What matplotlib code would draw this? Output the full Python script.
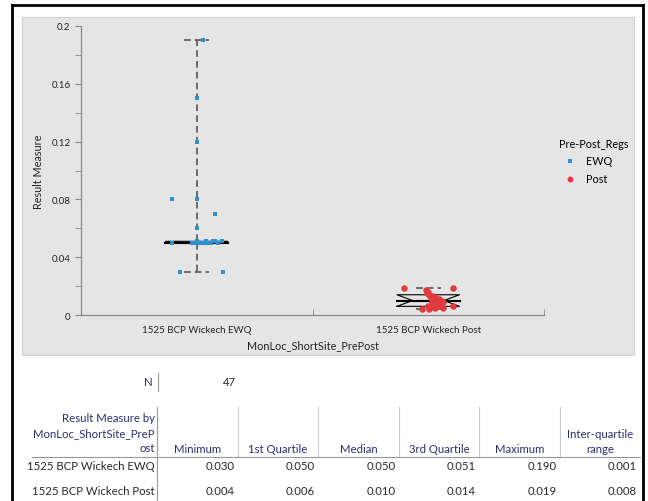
import matplotlib
matplotlib.use('Agg')
import matplotlib.pyplot as plt
from matplotlib.patches import Rectangle
from matplotlib.lines import Line2D
import numpy as np

plt.rcParams['font.family'] = ['Lato', 'DejaVu Sans']

categories = ['1525 BCP Wickech EWQ', '1525 BCP Wickech Post']
groups = ['EWQ', 'Post']
colors = ['#2f8fcf', '#e2393f']

# values, with horizontal jitter (category units)
ewq_vals = [0.19, 0.15, 0.12, 0.08, 0.08, 0.07, 0.06,
            0.05, 0.05, 0.05, 0.05, 0.05, 0.05, 0.05, 0.05,
            0.05, 0.05, 0.051, 0.051, 0.051, 0.051, 0.051,
            0.03, 0.03]
ewq_jit = [0.027, 0.0, 0.0, -0.107, 0.003, 0.079, 0.003,
           -0.107, -0.02, -0.01, 0.0, 0.01, 0.02, 0.03, 0.05,
           0.06, 0.09, 0.11, 0.0, 0.04, 0.07, 0.08,
           -0.074, 0.113]
post_vals = [0.019, 0.019, 0.017, 0.016, 0.015, 0.014, 0.013, 0.012,
             0.012, 0.011, 0.010, 0.010, 0.009, 0.008, 0.008, 0.007,
             0.006, 0.006, 0.006, 0.005, 0.005, 0.004, 0.004]
post_jit = [-0.103, 0.107, -0.01, 0.0, -0.005, 0.003, 0.02, 0.01,
            0.035, 0.045, 0.037, 0.06, 0.065, 0.05, 0.015, 0.04,
            0.0, 0.109, 0.025, 0.03, 0.065, -0.028, 0.005]

stat_names = ['Minimum', '1st Quartile', 'Median', '3rd Quartile', 'Maximum', 'Inter-quartile\nrange']
mins = [0.030, 0.004]
q1s = [0.050, 0.006]
meds = [0.050, 0.010]
q3s = [0.051, 0.014]
maxs = [0.190, 0.019]
iqrs = [0.001, 0.008]
n_total = 47

W, H = 648, 502
fig = plt.figure(figsize=(W / 100, H / 100), dpi=100)


def fx(px):
    return px / W


def fy(py):
    return 1 - py / H


# outer frame and grey panel
fig.add_artist(Line2D([fx(12), fx(12)], [fy(6), 0], color='black', lw=2))
fig.add_artist(Line2D([fx(643), fx(643)], [fy(6), 0], color='black', lw=2))
fig.add_artist(Line2D([fx(12), fx(643)], [fy(6), fy(6)], color='black', lw=2))
fig.add_artist(Rectangle((fx(22), fy(356)), fx(634) - fx(22), fy(18) - fy(356),
                         facecolor='#e5e5e5', edgecolor='#d2d2d2', lw=0.8, zorder=0))

ax = fig.add_axes([fx(81), fy(316), fx(544) - fx(81), fy(27) - fy(316)])
ax.set_facecolor('none')

stats = []
for i in range(2):
    stats.append(dict(med=meds[i], q1=q1s[i], q3=q3s[i], whislo=mins[i], whishi=maxs[i],
                      cilo=q1s[i], cihi=q3s[i], fliers=[]))
ax.bxp(stats, positions=[0, 1], widths=0.27, shownotches=True, showfliers=False,
       boxprops=dict(color='black', lw=0.8),
       whiskerprops=dict(color='#555555', lw=1.2, ls=(0, (4, 2.5))),
       capprops=dict(color='#555555', lw=1.2, ls=(0, (4, 2.5))),
       medianprops=dict(color='black', lw=1.5), capwidths=0.11)
# median across full box width
for i in range(2):
    ax.plot([i - 0.135, i + 0.135], [meds[i], meds[i]], color='black', lw=1.5, zorder=2)

ax.scatter(np.array(ewq_jit), ewq_vals, marker='s', s=12, color=colors[0], zorder=3,
           label=groups[0], linewidths=0)
ax.scatter(1 + np.array(post_jit), post_vals, marker='o', s=22, color=colors[1], zorder=3,
           label=groups[1], linewidths=0)

ax.set_xlim(-0.5, 1.5)
ax.set_ylim(0, 0.2)
ax.set_yticks([0, 0.04, 0.08, 0.12, 0.16, 0.2])
ax.set_yticklabels(['0', '0.04', '0.08', '0.12', '0.16', '0.2'])
ax.set_yticks(np.arange(0.02, 0.2, 0.04), minor=True)
ax.set_xticks([0, 1])
ax.set_xticklabels(categories)
ax.set_xticks([0.5, 1.5], minor=True)
ax.tick_params(axis='x', which='major', length=0, pad=7, labelsize=7, colors='#222222')
ax.tick_params(axis='x', which='minor', length=4, color='#888888', direction='in')
ax.tick_params(axis='y', which='both', length=4, color='#888888', labelsize=7,
               labelcolor='#222222')
for s in ['top', 'right']:
    ax.spines[s].set_visible(False)
for s in ['left', 'bottom']:
    ax.spines[s].set_color('#888888')
    ax.spines[s].set_linewidth(0.9)
ax.set_ylabel('Result Measure', fontsize=7.8, color='#222222', labelpad=5)
ax.set_xlabel('MonLoc_ShortSite_PrePost', fontsize=7.8, color='#222222', labelpad=4)

leg = ax.legend(loc='upper left', bbox_to_anchor=(fx(549), fy(129)),
                bbox_transform=fig.transFigure, frameon=False, fontsize=7.8,
                title='Pre-Post_Regs', title_fontsize=7.8, handletextpad=0.5,
                markerscale=0.9, labelspacing=0.6)
leg._legend_box.align = 'left'

# summary table
tc = '#2e2e6e'
dc = '#2a2a2a'
fs = 8.2
fig.text(fx(153), fy(383), 'N', ha='right', va='center', fontsize=fs, color=tc)
fig.add_artist(Line2D([fx(158), fx(158)], [fy(374), fy(392)], color='#999999', lw=0.8))
fig.text(fx(236), fy(383), str(n_total), ha='right', va='center', fontsize=fs, color=dc)

fig.text(fx(155), fy(454), 'Result Measure by\nMonLoc_ShortSite_PreP\nost', ha='right',
         va='bottom', fontsize=fs, color=tc, linespacing=1.45)
col_lines = [157, 238, 318, 399, 479, 560, 640]
for k, name in enumerate(stat_names):
    cx = (col_lines[k] + col_lines[k + 1]) / 2
    fig.text(fx(cx), fy(455), name, ha='center', va='bottom', fontsize=fs,
             color=tc, linespacing=1.45)
    if 0 < k < 6:
        fig.add_artist(Line2D([fx(col_lines[k]), fx(col_lines[k])], [fy(408), fy(457)],
                              color='#cccccc', lw=0.8))
fig.add_artist(Line2D([fx(157), fx(157)], [fy(408), 0], color='#999999', lw=0.8))
fig.add_artist(Line2D([fx(32), fx(640)], [fy(458), fy(458)], color='#999999', lw=0.8))

row_y = [467, 492]
for i in range(2):
    fig.text(fx(155), fy(row_y[i]), categories[i], ha='right', va='center', fontsize=fs,
             color=dc)
    vals = [mins[i], q1s[i], meds[i], q3s[i], maxs[i], iqrs[i]]
    for k, v in enumerate(vals):
        fig.text(fx(col_lines[k + 1] - 3), fy(row_y[i]), f'{v:.3f}', ha='right',
                 va='center', fontsize=fs, color=dc)

fig.savefig('out.png', dpi=100)
